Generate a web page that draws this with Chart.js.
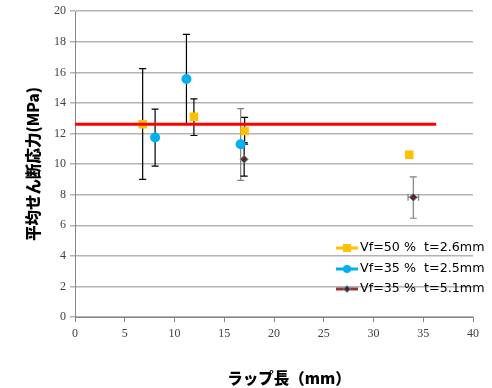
<!DOCTYPE html>
<html lang="ja">
<head>
<meta charset="UTF-8">
<script src="https://cdn.jsdelivr.net/npm/chart.js@4"></script>
<style>
  html, body { margin: 0; padding: 0; background: #fff; }
  #wrap { width: 492px; height: 388px; }
</style>
</head>
<body>
<div id="wrap"><canvas id="c" width="492" height="388"></canvas></div>
<script>
// Vf=50 %  t=2.6mm
const x50 = [6.8, 11.95, 17.05, 33.6];
const y50 = [12.61, 13.09, 12.17, 10.61];
const lo50 = [9.0, 11.87, 11.3, null];
const hi50 = [16.24, 14.26, 13.05, null];

// Vf=35 %  t=2.5mm
const x35a = [8.05, 11.2, 16.65];
const y35a = [11.74, 15.56, 11.3];
const lo35a = [9.87, 12.65, 8.94];
const hi35a = [13.59, 18.48, 13.63];

// Vf=35 %  t=5.1mm
const x35b = [17.0, 34.0];
const y35b = [10.31, 7.83];
const lo35b = [9.22, 6.46];
const hi35b = [11.4, 9.17];
const xErr35b = [0, 0.53];

// average line
const avgY = 12.6;
const avgX = [0, 36.3];

const labels = ['Vf=50 %  t=2.6mm', 'Vf=35 %  t=2.5mm', 'Vf=35 %  t=5.1mm'];
const yTitle = '平均せん断応力(MPa)';
const xTitle = 'ラップ長（mm）';

const pts = (xs, ys) => xs.map((x, i) => ({ x: x, y: ys[i] }));

const errSets = [
  { xs: x50, lo: lo50, hi: hi50, color: ['#000', '#000', '#000', '#000'] },
  { xs: x35a, lo: lo35a, hi: hi35a, color: ['#000', '#000', '#808080'] },
  { xs: x35b, lo: lo35b, hi: hi35b, xe: xErr35b, ys: y35b, color: ['#000', '#808080'] }
];

const errorBars = {
  id: 'errorBars',
  beforeDatasetsDraw(chart) {
    const ctx = chart.ctx, xs = chart.scales.x, ys = chart.scales.y;
    ctx.save();
    ctx.lineWidth = 1.2;
    errSets.forEach(s => {
      s.xs.forEach((x, i) => {
        if (s.lo[i] == null) return;
        const px = xs.getPixelForValue(x);
        const a = ys.getPixelForValue(s.lo[i]), b = ys.getPixelForValue(s.hi[i]);
        ctx.strokeStyle = s.color[i];
        ctx.beginPath();
        ctx.moveTo(px, a); ctx.lineTo(px, b);
        ctx.moveTo(px - 3.5, a); ctx.lineTo(px + 3.5, a);
        ctx.moveTo(px - 3.5, b); ctx.lineTo(px + 3.5, b);
        ctx.stroke();
        if (s.xe && s.xe[i]) {
          const py = ys.getPixelForValue(s.ys[i]);
          const l = xs.getPixelForValue(x - s.xe[i]), r = xs.getPixelForValue(x + s.xe[i]);
          ctx.beginPath();
          ctx.moveTo(l, py); ctx.lineTo(r, py);
          ctx.moveTo(l, py - 3.5); ctx.lineTo(l, py + 3.5);
          ctx.moveTo(r, py - 3.5); ctx.lineTo(r, py + 3.5);
          ctx.stroke();
        }
      });
    });
    ctx.restore();
  }
};

const extras = {
  id: 'extras',
  afterDraw(chart) {
    const ctx = chart.ctx;
    ctx.save();
    // axis titles
    ctx.fillStyle = '#000';
    ctx.textAlign = 'center';
    ctx.textBaseline = 'middle';
    ctx.font = '900 15.5px "Noto Sans CJK JP"';
    ctx.fillText(xTitle, 289, 378);
    ctx.translate(33, 164);
    ctx.rotate(-Math.PI / 2);
    ctx.font = '900 15.5px "Noto Sans CJK JP"';
    ctx.fillText(yTitle, 0, 0);
    ctx.restore();

    // legend
    ctx.save();
    const rows = [248, 269, 289];
    const cols = ['#ffc000', '#00b0f0', '#943634'];
    ctx.font = '12.7px "DejaVu Sans"';
    ctx.textBaseline = 'middle';
    ctx.textAlign = 'left';
    rows.forEach((y, i) => {
      ctx.strokeStyle = cols[i];
      ctx.lineWidth = 3;
      ctx.beginPath();
      ctx.moveTo(336, y); ctx.lineTo(358, y);
      ctx.stroke();
      if (i === 0) {
        ctx.fillStyle = '#ffc000';
        ctx.fillRect(343, y - 4, 8, 8);
      } else if (i === 1) {
        ctx.fillStyle = '#00b0f0';
        ctx.beginPath(); ctx.arc(347, y, 4, 0, Math.PI * 2); ctx.fill();
      } else {
        ctx.fillStyle = '#5a1a1a';
        ctx.strokeStyle = '#4bacc6';
        ctx.lineWidth = 1;
        ctx.beginPath();
        ctx.moveTo(347, y - 3.5); ctx.lineTo(350.5, y); ctx.lineTo(347, y + 3.5); ctx.lineTo(343.5, y);
        ctx.closePath(); ctx.fill(); ctx.stroke();
      }
      ctx.fillStyle = '#000';
      ctx.fillText(labels[i], 360, y);
    });
    ctx.restore();
  }
};

new Chart(document.getElementById('c'), {
  type: 'scatter',
  data: {
    datasets: [
      {
        type: 'line', data: pts(avgX, [avgY, avgY]), borderColor: '#ff0000', borderWidth: 3,
        pointRadius: 0, order: 0
      },
      {
        data: pts(x50, y50), pointStyle: 'rect', pointRadius: 6, backgroundColor: '#ffc000',
        borderColor: '#ffc000', borderWidth: 0, order: 1
      },
      {
        data: pts(x35a, y35a), pointStyle: 'circle', pointRadius: 5, backgroundColor: '#00b0f0',
        borderColor: '#00b0f0', borderWidth: 0, order: 1
      },
      {
        data: pts(x35b, y35b), pointStyle: 'rectRot', pointRadius: 4, backgroundColor: '#6b1f1f',
        borderColor: '#4bacc6', borderWidth: 1, order: 1
      }
    ]
  },
  options: {
    responsive: false,
    animation: false,
    layout: { padding: { left: 0, right: 19, top: 11, bottom: 0 } },
    plugins: { legend: { display: false }, tooltip: { enabled: false } },
    scales: {
      x: {
        type: 'linear', min: 0, max: 40,
        ticks: { stepSize: 5, color: '#404040', font: { family: 'Liberation Serif', size: 12 }, padding: 5 },
        grid: { drawOnChartArea: false, drawTicks: true, tickLength: 5, color: '#868686' },
        border: { color: '#868686', width: 1 },
        afterFit(s) { s.height = 71; }
      },
      y: {
        min: 0, max: 20,
        ticks: { stepSize: 2, color: '#404040', font: { family: 'Liberation Serif', size: 12 }, padding: 4 },
        grid: { color: '#b4b4b4', lineWidth: 1.5, tickLength: 5 },
        border: { color: '#868686', width: 1 },
        afterFit(s) { s.width = 75; }
      }
    }
  },
  plugins: [errorBars, extras]
});
</script>
</body>
</html>
